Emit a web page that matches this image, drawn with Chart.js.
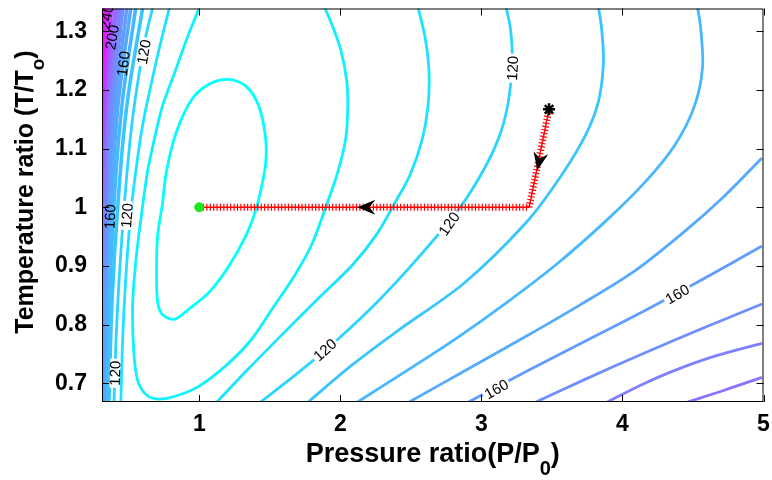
<!DOCTYPE html>
<html>
<head>
<meta charset="utf-8">
<title>Contour</title>
<script src="https://cdn.jsdelivr.net/npm/chart.js@4.4.0/dist/chart.umd.min.js"></script>
<style>
  body { margin: 0; background: #fff; }
  #wrap { width: 772px; height: 480px; }
</style>
</head>
<body>
<div id="wrap"><canvas id="contourChart" width="772" height="480"></canvas></div>
<script>
// axis ticks
var xTicks = [1, 2, 3, 4, 5];
var yTicks = [0.7, 0.8, 0.9, 1.0, 1.1, 1.2, 1.3];

// contour lines, P = pressure ratio, T = temperature ratio
var c90P = [0.738, 0.766, 0.836, 0.949, 1.068, 1.209, 1.328, 1.420, 1.469, 1.469, 1.434, 1.398, 1.328, 1.209, 1.068, 0.928, 0.822, 0.738, 0.703, 0.696, 0.703, 0.738];
var c90T = [1.006, 1.061, 1.128, 1.185, 1.210, 1.218, 1.207, 1.173, 1.118, 1.073, 1.028, 0.994, 0.951, 0.900, 0.855, 0.827, 0.809, 0.817, 0.839, 0.894, 0.951, 1.006];

var c100P = [0.998, 0.907, 0.822, 0.738, 0.682, 0.632, 0.590, 0.555, 0.527, 0.534, 0.562, 0.625, 0.717, 0.857, 0.998, 1.188, 1.370, 1.525, 1.665, 1.792, 1.897, 1.982, 2.038, 2.052, 2.045, 2.003, 1.947, 1.890];
var c100T = [1.340, 1.285, 1.228, 1.173, 1.118, 1.061, 0.989, 0.922, 0.839, 0.755, 0.705, 0.680, 0.673, 0.680, 0.695, 0.730, 0.775, 0.830, 0.880, 0.934, 1.001, 1.061, 1.118, 1.173, 1.215, 1.268, 1.307, 1.340];

var c110P = [1.124, 1.349, 1.595, 1.841, 2.087, 2.263, 2.382, 2.495, 2.579, 2.621, 2.628, 2.600, 2.551];
var c110T = [0.668, 0.725, 0.785, 0.844, 0.902, 0.956, 1.006, 1.056, 1.115, 1.173, 1.232, 1.290, 1.340];
var c110LP = [0.787, 0.717, 0.654, 0.597, 0.555, 0.513, 0.485, 0.464, 0.450, 0.443];
var c110LT = [1.340, 1.273, 1.206, 1.140, 1.073, 0.989, 0.906, 0.822, 0.738, 0.668];

var c120P = [1.434, 1.701, 1.982, 2.263, 2.544, 2.846, 3.036, 3.141, 3.197, 3.218, 3.204, 3.176];
var c120T = [0.668, 0.718, 0.775, 0.839, 0.912, 0.999, 1.073, 1.131, 1.190, 1.257, 1.307, 1.340];
var c120LP = [0.668, 0.618, 0.569, 0.520, 0.485, 0.457, 0.429, 0.408, 0.394];
var c120LT = [1.340, 1.290, 1.223, 1.140, 1.056, 0.972, 0.872, 0.772, 0.668];

var c130P = [1.771, 2.087, 2.403, 2.874, 3.317, 3.563, 3.738, 3.830, 3.865, 3.851, 3.830];
var c130T = [0.668, 0.732, 0.789, 0.870, 0.974, 1.053, 1.123, 1.181, 1.248, 1.307, 1.340];

var c140P = [2.122, 2.474, 2.825, 3.176, 3.528, 3.879, 4.160, 4.371, 4.511, 4.568, 4.554, 4.533];
var c140T = [0.668, 0.722, 0.777, 0.837, 0.902, 0.976, 1.043, 1.106, 1.173, 1.240, 1.307, 1.340];

var c150P = [2.488, 2.895, 3.317, 3.703, 4.090, 4.441, 4.722, 4.989];
var c150T = [0.668, 0.723, 0.780, 0.834, 0.892, 0.959, 1.019, 1.084];

var c160P = [2.909, 3.317, 3.738, 4.160, 4.582, 4.989];
var c160T = [0.668, 0.720, 0.772, 0.824, 0.879, 0.934];

var c170P = [3.387, 3.738, 4.160, 4.582, 4.989];
var c170T = [0.668, 0.707, 0.752, 0.795, 0.835];

var c180P = [3.893, 4.132, 4.371, 4.666, 4.989];
var c180T = [0.668, 0.697, 0.722, 0.747, 0.768];

var c190P = [4.462, 4.722, 4.989];
var c190T = [0.668, 0.688, 0.710];

// steep wall at low pressure, all read at these temperatures
var leftT = [1.340, 1.173, 1.006, 0.839, 0.668];
var c130LP = [0.597, 0.485, 0.422, 0.380, 0.358];
var c140LP = [0.548, 0.450, 0.394, 0.362, 0.348];
var c150LP = [0.513, 0.422, 0.376, 0.348, 0.337];
var c160LP = [0.485, 0.401, 0.362, 0.337, 0.328];
var c170LP = [0.457, 0.383, 0.350, 0.328, 0.319];
var c180LP = [0.436, 0.369, 0.340, 0.320, 0.312];
var c190LP = [0.415, 0.357, 0.330, 0.314, 0.306];
var c200LP = [0.401, 0.348, 0.323, 0.309, 0.302];
var c220LP = [0.376, 0.334, 0.313, 0.302, 0.295];
var c240LP = [0.355, 0.323, 0.306, 0.295, 0.288];
var c260LP = [0.337, 0.315, 0.301, 0.288, 0.281];
var c280LP = [0.323, 0.308, 0.295, 0.281, 0.274];

// operating path (red) and its arrows
var pathP = [3.479, 3.338, 0.998];
var pathT = [1.167, 1.000, 1.000];
var arrowTipP = [3.396, 2.120];
var arrowTipT = [1.063, 1.000];
var arrowSeg = [0, 1];

// contour labels
var labelText = ['120', '160', '120', '160', '120', '200', '240', '120', '120', '120', '160', '160'];
var labelP = [0.605, 0.460, 0.485, 0.365, 0.401, 0.380, 0.340, 3.220, 2.770, 1.890, 3.106, 4.389];
var labelT = [1.265, 1.245, 0.986, 0.984, 0.717, 1.290, 1.325, 1.237, 0.972, 0.757, 0.690, 0.852];
var labelAngle = [-80, -83, -86, -88, -88, -80, -80, -87, -55, -42, -29, -30];
var labelGap = [true, false, true, false, true, false, false, true, true, true, true, true];

var pieces = [
  [90, c90P, c90T], [100, c100P, c100T],
  [110, c110P, c110T], [110, c110LP, c110LT],
  [120, c120P, c120T], [120, c120LP, c120LT],
  [130, c130P, c130T], [140, c140P, c140T], [150, c150P, c150T], [160, c160P, c160T],
  [170, c170P, c170T], [180, c180P, c180T], [190, c190P, c190T],
  [130, c130LP, leftT], [140, c140LP, leftT], [150, c150LP, leftT], [160, c160LP, leftT],
  [170, c170LP, leftT], [180, c180LP, leftT], [190, c190LP, leftT], [200, c200LP, leftT],
  [220, c220LP, leftT], [240, c240LP, leftT], [260, c260LP, leftT], [280, c280LP, leftT]
];

// matlab "cool" colormap
function coolColor(level) {
  var t = (level - 90) / (270 - 90);
  t = Math.max(0, Math.min(1, t));
  return 'rgb(' + Math.round(255 * t) + ',' + Math.round(255 * (1 - t)) + ',255)';
}

function toXY(ps, ts) {
  return ps.map(function (p, i) { return { x: p, y: ts[i] }; });
}

var datasets = [
  { data: [{ x: pathP[pathP.length - 1], y: pathT[pathT.length - 1] }], pointStyle: 'circle', pointRadius: 4.5,
    backgroundColor: '#1ee61e', borderColor: '#1ee61e', showLine: false },
  { data: [{ x: pathP[0], y: pathT[0] }], pointStyle: 'star', pointRadius: 6, borderWidth: 2.5,
    borderColor: '#000', backgroundColor: '#000', showLine: false },
  { data: toXY(pathP, pathT), borderColor: '#ff0000', borderWidth: 7, borderDash: [1.2, 2.2],
    showLine: true, pointRadius: 0, tension: 0, clip: 0 },
  { data: toXY(pathP, pathT), borderColor: '#ff0000', borderWidth: 1.5,
    showLine: true, pointRadius: 0, tension: 0, clip: 0 }
];

// contours: dense wall lines drawn a bit thicker so they merge into a band
pieces.forEach(function (pc) {
  var wall = pc[2] === leftT;
  datasets.push({
    data: toXY(pc[1], pc[2]),
    borderColor: coolColor(pc[0]),
    borderWidth: wall ? 3.6 : 2.8,
    showLine: true, pointRadius: 0, tension: wall ? 0.4 : 0.3, clip: 0
  });
});

function drawLabels(chart) {
  var ctx = chart.ctx, xs = chart.scales.x, ys = chart.scales.y, a = chart.chartArea;
  ctx.save();
  ctx.beginPath();
  ctx.rect(a.left, a.top, a.right - a.left, a.bottom - a.top);
  ctx.clip();
  ctx.font = '15px "Liberation Sans", Arial, sans-serif';
  ctx.textAlign = 'center';
  ctx.textBaseline = 'middle';
  labelText.forEach(function (txt, i) {
    var px = xs.getPixelForValue(labelP[i]), py = ys.getPixelForValue(labelT[i]);
    ctx.save();
    ctx.translate(px, py);
    ctx.rotate(labelAngle[i] * Math.PI / 180);
    var w = ctx.measureText(txt).width;
    if (labelGap[i]) {
      ctx.fillStyle = '#fff';
      ctx.fillRect(-w / 2 - 2, -5, w + 4, 10);
    }
    ctx.fillStyle = '#000';
    ctx.fillText(txt, 0, 1);
    ctx.restore();
  });
  ctx.restore();
}

function drawArrows(chart) {
  var ctx = chart.ctx, xs = chart.scales.x, ys = chart.scales.y;
  ctx.save();
  ctx.fillStyle = '#000';
  arrowTipP.forEach(function (p, i) {
    var s = arrowSeg[i];
    var dx = xs.getPixelForValue(pathP[s + 1]) - xs.getPixelForValue(pathP[s]);
    var dy = ys.getPixelForValue(pathT[s + 1]) - ys.getPixelForValue(pathT[s]);
    var len = Math.sqrt(dx * dx + dy * dy);
    dx /= len; dy /= len;
    var nx = -dy, ny = dx;
    var tx = xs.getPixelForValue(p), ty = ys.getPixelForValue(arrowTipT[i]);
    var L = 18, W = 7.5, N = 12;
    ctx.beginPath();
    ctx.moveTo(tx, ty);
    ctx.lineTo(tx - L * dx + W * nx, ty - L * dy + W * ny);
    ctx.lineTo(tx - N * dx, ty - N * dy);
    ctx.lineTo(tx - L * dx - W * nx, ty - L * dy - W * ny);
    ctx.closePath();
    ctx.fill();
  });
  ctx.restore();
}

function drawSubText(ctx, main, sub, tail, mainFont, subFont, subDrop) {
  ctx.font = mainFont;
  var w1 = ctx.measureText(main).width, w3 = ctx.measureText(tail).width;
  ctx.font = subFont;
  var w2 = ctx.measureText(sub).width;
  var x0 = -(w1 + w2 + w3) / 2;
  ctx.font = mainFont;
  ctx.fillText(main, x0, 0);
  ctx.font = subFont;
  ctx.fillText(sub, x0 + w1, subDrop);
  ctx.font = mainFont;
  ctx.fillText(tail, x0 + w1 + w2, 0);
}

var contourPlugin = {
  id: 'contourExtras',
  beforeDatasetDraw: function (chart, args) {
    if (args.index === 3) drawLabels(chart);
  },
  afterDatasetsDraw: function (chart) {
    drawArrows(chart);
  },
  afterDraw: function (chart) {
    var ctx = chart.ctx, a = chart.chartArea, xs = chart.scales.x, ys = chart.scales.y;
    ctx.save();
    ctx.strokeStyle = '#000';
    ctx.lineWidth = 1;
    ctx.strokeRect(a.left + 0.5, a.top + 0.5, a.right - a.left - 1, a.bottom - a.top - 1);
    ctx.beginPath();
    xTicks.forEach(function (v) {
      var px = Math.round(xs.getPixelForValue(v)) + 0.5;
      ctx.moveTo(px, a.bottom); ctx.lineTo(px, a.bottom - 7);
      ctx.moveTo(px, a.top); ctx.lineTo(px, a.top + 7);
    });
    yTicks.forEach(function (v) {
      var py = Math.round(ys.getPixelForValue(v)) + 0.5;
      ctx.moveTo(a.left, py); ctx.lineTo(a.left + 7, py);
      ctx.moveTo(a.right, py); ctx.lineTo(a.right - 7, py);
    });
    ctx.stroke();

    // axis titles with subscripts
    ctx.fillStyle = '#000';
    ctx.textBaseline = 'alphabetic';
    ctx.textAlign = 'left';
    ctx.save();
    ctx.translate((a.left + a.right) / 2, 462);
    drawSubText(ctx, 'Pressure ratio(P/P', '0', ')', 'bold 27px "Liberation Sans", Arial, sans-serif',
      'bold 20px "Liberation Sans", Arial, sans-serif', 13);
    ctx.restore();
    ctx.save();
    ctx.translate(33, 192);
    ctx.rotate(-Math.PI / 2);
    drawSubText(ctx, 'Temperature ratio (T/T', 'o', ')', 'bold 25px "Liberation Sans", Arial, sans-serif',
      'bold 19px "Liberation Sans", Arial, sans-serif', 11);
    ctx.restore();
    ctx.restore();
  }
};

var tickFont = { family: '"Liberation Sans", Arial, sans-serif', size: 23, weight: 'bold' };

new Chart(document.getElementById('contourChart'), {
  type: 'scatter',
  data: { datasets: datasets },
  options: {
    responsive: false,
    animation: false,
    layout: { padding: { top: 1, right: 4, left: 0, bottom: 0 } },
    elements: { line: { capBezierPoints: false } },
    plugins: { legend: { display: false }, tooltip: { enabled: false } },
    scales: {
      x: {
        type: 'linear', min: 0.309, max: 5,
        grid: { display: false, drawTicks: false },
        border: { display: false },
        ticks: { font: tickFont, color: '#000', padding: 9 },
        afterBuildTicks: function (s) { s.ticks = xTicks.map(function (v) { return { value: v }; }); },
        afterFit: function (s) { s.height = 78; s.paddingLeft = 0; s.paddingRight = 0; }
      },
      y: {
        type: 'linear', min: 0.668, max: 1.339,
        grid: { display: false, drawTicks: false },
        border: { display: false },
        ticks: {
          font: tickFont, color: '#000', padding: 15,
          callback: function (v) { return String(Math.round(v * 10) / 10); }
        },
        afterBuildTicks: function (s) { s.ticks = yTicks.map(function (v) { return { value: v }; }); },
        afterFit: function (s) { s.width = 102; s.paddingTop = 0; s.paddingBottom = 0; }
      }
    }
  },
  plugins: [contourPlugin]
});
</script>
</body>
</html>
